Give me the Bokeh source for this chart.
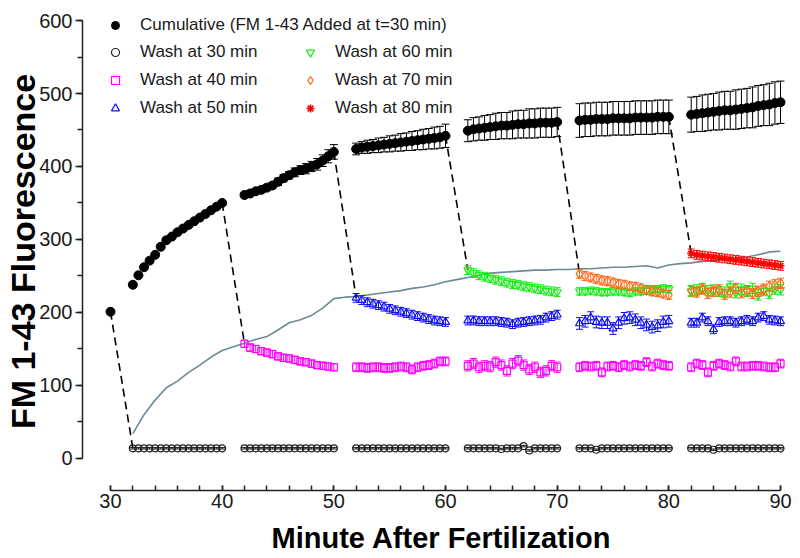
import numpy as np
from bokeh.plotting import figure
from bokeh.models import (ColumnDataSource, Whisker, TeeHead, Legend, LegendItem,
                          SingleIntervalTicker, Range1d)
from bokeh.embed import file_html
from bokeh.resources import INLINE

# ---------------- data ----------------
SEG_STARTS = [32, 42, 52, 62, 72, 82]   # start minute of each recording block
STEP = 0.5                              # sampling interval (min)
NPTS = 17                               # points per block

CUM_T0 = [30]
CUM_V0 = [201]
CUM_SEGS = [
    [238, 251, 262, 271, 279, 290, 299, 304, 310, 315, 320, 325, 330, 335, 340, 345, 350],
    [361, 363, 366, 368, 371, 374, 379, 384, 388, 392, 395, 397, 400, 403, 408, 414, 420],
    [424, 426, 427, 428, 429, 430, 431, 432, 433, 434, 435, 436, 437, 438, 439, 440, 442],
    [449, 451, 452, 453, 454, 455, 456, 456, 457, 458, 458, 459, 459, 460, 460, 460, 461],
    [463, 464, 464, 465, 465, 465, 466, 466, 466, 466, 467, 467, 467, 467, 468, 468, 468],
    [471, 472, 473, 474, 475, 476, 477, 477, 478, 479, 480, 481, 483, 484, 485, 487, 488],
]
CUM_ERR = [
    [2, 2, 2, 2, 2, 2, 2, 2, 2, 2, 2, 2, 2, 2, 2, 2, 2],
    [3, 3, 3, 4, 4, 4, 5, 5, 5, 6, 6, 7, 7, 8, 8, 9, 10],
    [8, 8, 9, 9, 10, 10, 11, 11, 12, 12, 13, 13, 14, 14, 15, 15, 16],
    [15, 16, 16, 17, 17, 18, 18, 18, 19, 19, 19, 20, 20, 20, 20, 20, 20],
    [23, 23, 23, 23, 23, 23, 23, 23, 23, 23, 23, 23, 23, 23, 23, 23, 23],
    [24, 24, 25, 25, 25, 26, 26, 26, 27, 27, 27, 28, 28, 28, 29, 29, 29],
]

W30_SEGS = [
    [14, 14, 14, 14, 14, 14, 14, 14, 14, 14, 14, 14, 14, 14, 14, 14, 14],
    [14, 14, 14, 14, 14, 14, 14, 14, 14, 14, 14, 14, 14, 14, 14, 14, 14],
    [14, 14, 14, 14, 14, 14, 14, 14, 14, 14, 14, 14, 14, 14, 14, 14, 14],
    [14, 14, 14, 14, 14, 14, 13, 14, 14, 14, 17, 11, 14, 14, 14, 14, 14],
    [14, 14, 14, 12, 14, 14, 14, 14, 14, 14, 14, 14, 14, 14, 14, 14, 14],
    [14, 14, 14, 14, 12, 14, 14, 14, 14, 14, 14, 14, 14, 14, 14, 14, 14],
]
W30_ERR = [1, 1, 1, 1, 1, 1]

W40_SEGS = [
    [157, 152, 150, 147, 145, 143, 140, 138, 137, 135, 133, 132, 130, 128, 127, 126, 125],
    [125, 125, 124, 125, 125, 124, 124, 125, 126, 125, 122, 125, 127, 128, 130, 133, 133],
    [127, 130, 125, 127, 126, 132, 128, 120, 130, 134, 128, 122, 125, 118, 120, 127, 125],
    [125, 127, 126, 127, 118, 126, 127, 125, 128, 126, 128, 127, 132, 126, 130, 128, 127],
    [125, 130, 128, 118, 127, 130, 128, 126, 133, 126, 126, 127, 127, 126, 125, 125, 130],
]
W40_ERR = [5, 6, 7, 6, 6]

W50_SEGS = [
    [220, 217, 214, 212, 210, 208, 205, 203, 201, 199, 197, 195, 193, 191, 189, 188, 187],
    [189, 189, 188, 188, 188, 188, 187, 186, 184, 186, 187, 188, 189, 190, 193, 195, 197],
    [185, 188, 193, 187, 186, 186, 178, 186, 192, 193, 190, 186, 183, 180, 182, 187, 188],
    [186, 186, 193, 188, 177, 187, 188, 188, 186, 188, 190, 188, 193, 195, 190, 189, 188],
]
W50_ERR = [6, 6, 8, 6]

W60_SEGS = [
    [258, 254, 251, 249, 247, 245, 243, 241, 239, 238, 236, 235, 233, 232, 230, 229, 228],
    [229, 229, 230, 229, 228, 228, 229, 229, 228, 227, 229, 229, 230, 232, 232, 233, 232],
    [229, 231, 233, 230, 231, 229, 228, 236, 227, 232, 229, 233, 224, 230, 226, 232, 231],
]
W60_ERR = [6, 5, 7]

W70_SEGS = [
    [253, 250, 248, 246, 244, 243, 241, 239, 238, 236, 235, 233, 231, 229, 228, 226, 224],
    [230, 228, 232, 226, 229, 231, 225, 228, 233, 227, 230, 226, 229, 232, 236, 238, 240],
]
W70_ERR = [6, 7]

W80_SEGS = [
    [281, 279, 278, 277, 276, 275, 274, 273, 272, 271, 270, 269, 268, 267, 266, 265, 264],
]
W80_ERR = [6]

GREY_T = list(range(32, 91))
GREY_V = [34, 60, 80, 97, 106, 118, 128, 139, 148,
          153, 158, 163, 167, 176, 186, 190, 196, 206, 219,
          221, 222, 224, 226, 228, 230, 233, 235, 238, 242,
          245, 248, 251, 254, 255, 256, 257, 258, 258, 259,
          259, 260, 260, 261, 262, 262, 263, 264, 261, 265,
          267, 268, 270, 271, 273, 274, 276, 279, 283, 284]

LABELS = ["Cumulative (FM 1-43 Added at t=30 min)", "Wash at 30 min", "Wash at 40 min",
          "Wash at 50 min", "Wash at 60 min", "Wash at 70 min", "Wash at 80 min"]
X_TITLE = "Minute After Fertilization"
Y_TITLE = "FM 1-43 Fluorescence"

FONT = "Liberation Sans"
TXT = "#1a1a1a"


def seg_times(k):
    return [SEG_STARTS[k] + STEP * i for i in range(NPTS)]


def build(first_seg, segs, errs):
    t, v, e = [], [], []
    for j, vals in enumerate(segs):
        t += seg_times(first_seg + j)
        v += vals
        e += (errs[j] if isinstance(errs[j], list) else [errs[j]] * len(vals))
    v = np.array(v, float)
    e = np.array(e, float)
    return ColumnDataSource(dict(t=t, v=v, lo=v - e, hi=v + e))


# ---------------- figure ----------------
p = figure(width=800, height=558, output_backend="svg", toolbar_location=None,
           x_range=Range1d(27.493, 91.79), y_range=Range1d(-43.84, 610.96),
           min_border_left=82, min_border_right=0, min_border_top=12, min_border_bottom=68)
p.outline_line_color = None
p.grid.visible = False
p.background_fill_color = "white"
p.border_fill_color = "white"

xa = p.xaxis[0]
xa.ticker = SingleIntervalTicker(interval=10, num_minor_ticks=5)
xa.bounds = (30, 90)
xa.major_tick_in = 5
xa.major_tick_out = 0
xa.minor_tick_in = 5
xa.minor_tick_out = 0
xa.axis_label = X_TITLE
xa.axis_label_text_font_size = "29px"
xa.axis_label_standoff = 11
ya = p.yaxis[0]
ya.ticker = SingleIntervalTicker(interval=100, num_minor_ticks=2)
ya.bounds = (0, 600)
ya.major_tick_in = 0
ya.major_tick_out = 7
ya.minor_tick_in = 0
ya.minor_tick_out = 5
ya.axis_label = Y_TITLE
ya.axis_label_text_font_size = "34px"
ya.axis_label_standoff = -6
for ax in (xa, ya):
    ax.axis_line_width = 1.5
    ax.axis_line_color = "#222222"
    ax.major_tick_line_width = 1.5
    ax.major_tick_line_color = "#222222"
    ax.minor_tick_line_width = 1.5
    ax.minor_tick_line_color = "#222222"
    ax.major_label_text_font = FONT
    ax.major_label_text_font_size = "20px"
    ax.major_label_text_color = TXT
    ax.major_label_standoff = 3
    ax.axis_label_text_font = FONT
    ax.axis_label_text_font_style = "bold"
    ax.axis_label_text_color = "black"

# grey reference curve
p.line(GREY_T, GREY_V, line_color="#6B8A93", line_width=1.6)

# sources
cum_src = build(0, CUM_SEGS, CUM_ERR)
cum0_src = ColumnDataSource(dict(t=CUM_T0, v=CUM_V0))
series = [
    (0, W30_SEGS, W30_ERR, "circle", "#222222", 7),
    (1, W40_SEGS, W40_ERR, "square", "#FF00FF", 7),
    (2, W50_SEGS, W50_ERR, "triangle", "#1010F0", 8),
    (3, W60_SEGS, W60_ERR, "inverted_triangle", "#11EE11", 8),
    (4, W70_SEGS, W70_ERR, "diamond", "#FF6A1A", 10),
    (5, W80_SEGS, W80_ERR, "asterisk", "#FF0000", 8),
]

# dashed connectors: end of cumulative block -> first point of new wash series
cx0, cy0, cx1, cy1 = [], [], [], []
for k, segs, errs, m, c, s in series:
    if k == 0:
        cx0.append(CUM_T0[0]); cy0.append(CUM_V0[0])
    else:
        cx0.append(seg_times(k - 1)[-1]); cy0.append(CUM_SEGS[k - 1][-1])
    cx1.append(seg_times(k)[0]); cy1.append(segs[0][0])
p.segment(cx0, cy0, cx1, cy1, line_color="black", line_width=1.6, line_dash="8 5")

# error bars
def add_whisker(src, color, size):
    w = Whisker(base="t", upper="hi", lower="lo", source=src, dimension="height",
                line_color=color, line_width=1,
                upper_head=TeeHead(size=size, line_color=color, line_width=1),
                lower_head=TeeHead(size=size, line_color=color, line_width=1))
    w.level = "glyph"
    p.add_layout(w)

add_whisker(cum_src, "black", 8)
renderers = []
wash_srcs = []
for k, segs, errs, m, c, s in series:
    src = build(k, segs, errs)
    wash_srcs.append(src)
    add_whisker(src, c, 7)

r_cum = p.scatter("t", "v", source=cum_src, marker="circle", size=9, fill_color="black",
                  line_color="black")
p.scatter("t", "v", source=cum0_src, marker="circle", size=9, fill_color="black",
          line_color="black")
for (k, segs, errs, m, c, s), src in zip(series, wash_srcs):
    lw = 1.6 if m == "asterisk" else 1.2
    r = p.scatter("t", "v", source=src, marker=m, size=s, fill_color=None,
                  line_color=c, line_width=lw)
    renderers.append(r)

# legends
leg_kw = dict(border_line_color=None, background_fill_alpha=0, padding=0, margin=0,
              spacing=0, glyph_width=20, glyph_height=28, label_height=28,
              label_standoff=15, label_text_font=FONT, label_text_font_size="17px",
              label_text_color=TXT)
leg1 = Legend(items=[LegendItem(label=LABELS[0], renderers=[r_cum])], location=(23, 451), **leg_kw)
leg2 = Legend(items=[LegendItem(label=LABELS[i + 1], renderers=[renderers[i]]) for i in range(3)],
              location=(23, 368), **leg_kw)
leg3 = Legend(items=[LegendItem(label=LABELS[i + 1], renderers=[renderers[i]]) for i in range(3, 6)],
              location=(218, 368), **leg_kw)
for lg in (leg1, leg2, leg3):
    p.add_layout(lg)

open("out.html", "w").write(file_html(p, INLINE))
